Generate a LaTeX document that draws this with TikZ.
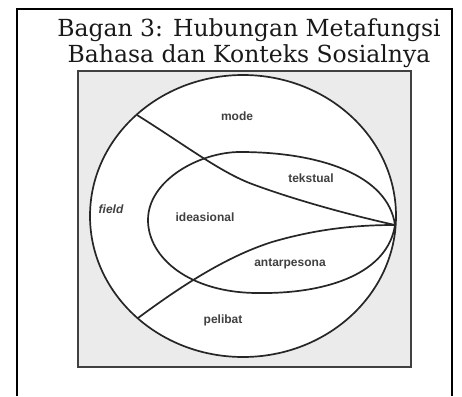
\documentclass[tikz,border=0pt]{standalone}
\usepackage{fontspec}
\usepackage{tikz}
\usetikzlibrary{calc}
\newfontfamily\titlefont{DejaVu Serif}
\newfontfamily\lblfont{Liberation Sans}
\tikzset{lbl/.style={font=\lblfont\bfseries\fontsize{12}{12}\selectfont,text=black!75,inner sep=0pt}}
\tikzset{ttl/.style={font=\titlefont\fontsize{23.5}{24}\selectfont,text=black!90,anchor=base,inner sep=0pt}}
\tikzset{rim/.style={line width=1.7pt,draw=black!85,line join=round}}

\begin{document}
\begin{tikzpicture}[x=1pt,y=-1pt]
\useasboundingbox (0,0) rectangle (462,396);

% frame
\coordinate (FL) at (17,396);
\coordinate (FR) at (452,396);
\draw[line width=1.1pt] (FL) -- (17,9) -- (452,9) -- (FR);

\node[ttl] (T1) at (249,37) {Bagan 3: Hubungan Metafungsi};
\node[ttl] (T2) at (249,63) {Bahasa dan Konteks Sosialnya};

% picture
\draw[draw=black!75,line width=1.2pt,fill=black!8] (78,71) rectangle (411,367);

\coordinate (C) at (243,216);
\coordinate (P) at (395,225);
\coordinate (M1) at (137,115);
\coordinate (M2) at (138,318);

\draw[rim,fill=white] (C) ellipse [x radius=153pt,y radius=141pt];

\draw[rim] (P) .. controls (388,175) and (320,152) .. (240,152)
  .. controls (200,152) and (148,180) .. (148,220)
  .. controls (148,258) and (190,293) .. (258,293)
  .. controls (330,294) and (388,272) .. (P);

\draw[rim] (M1) .. controls (185,145) and (220,172) .. (252,184)
  .. controls (295,200) and (350,215) .. (P);
\draw[rim] (M2) .. controls (180,287) and (225,257) .. (272,242)
  .. controls (320,228) and (360,225) .. (P);

\node[lbl] (mode) at (237,116) {mode};
\node[lbl] (teks) at (311,178) {tekstual};
\node[lbl,font=\lblfont\bfseries\itshape\fontsize{12}{12}\selectfont] (field) at (111,209) {field};
\node[lbl] (idea) at (205,217) {ideasional};
\node[lbl] (antar) at (290,264) {antarpesona};
\node[lbl] (peli) at (223,320) {pelibat};

\end{tikzpicture}
\end{document}
